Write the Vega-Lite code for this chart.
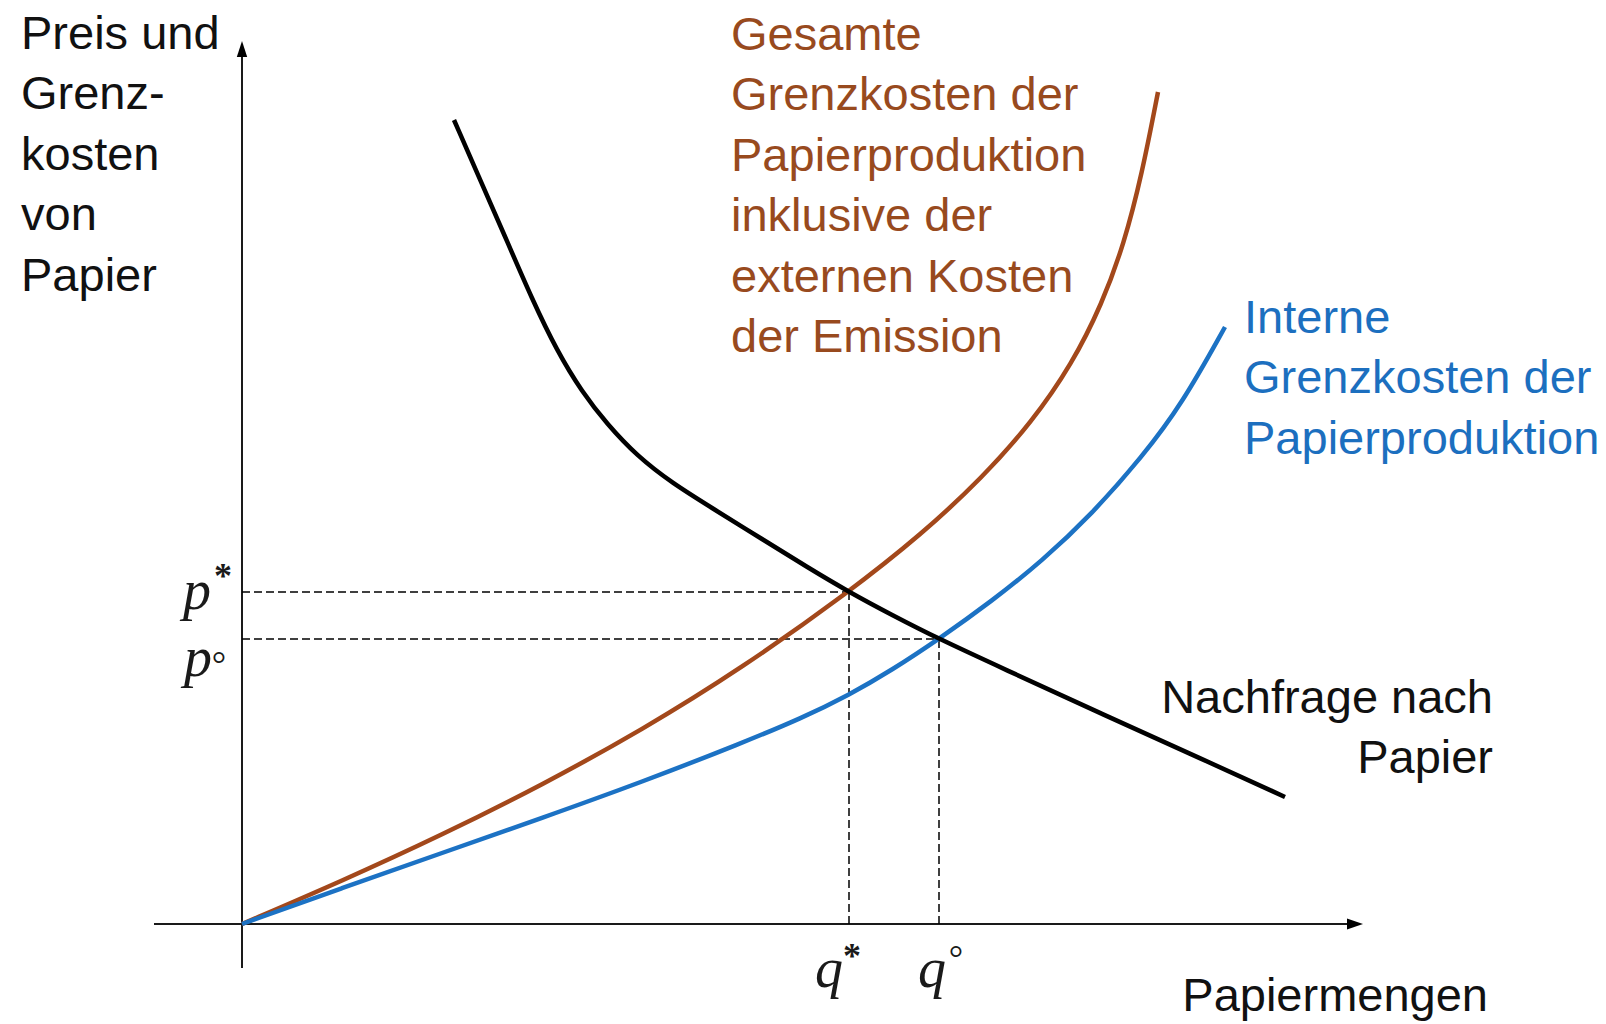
{
  "$schema": "https://vega.github.io/schema/vega-lite/v6.json",
  "width": 1606,
  "height": 1024,
  "padding": 0,
  "autosize": {"type": "none"},
  "background": "white",
  "config": {"view": {"stroke": null}},
  "datasets": {
    "curves": [
      {"curve": "Gesamt", "q": 0, "p": 0},
      {"curve": "Gesamt", "q": 100, "p": 43},
      {"curve": "Gesamt", "q": 200, "p": 89},
      {"curve": "Gesamt", "q": 300, "p": 139},
      {"curve": "Gesamt", "q": 400, "p": 194},
      {"curve": "Gesamt", "q": 500, "p": 256},
      {"curve": "Gesamt", "q": 607, "p": 332},
      {"curve": "Gesamt", "q": 680, "p": 390},
      {"curve": "Gesamt", "q": 740, "p": 446},
      {"curve": "Gesamt", "q": 790, "p": 502},
      {"curve": "Gesamt", "q": 830, "p": 560},
      {"curve": "Gesamt", "q": 860, "p": 620},
      {"curve": "Gesamt", "q": 882, "p": 680},
      {"curve": "Gesamt", "q": 900, "p": 750},
      {"curve": "Gesamt", "q": 916, "p": 832},
      {"curve": "Intern", "q": 0, "p": 0},
      {"curve": "Intern", "q": 100, "p": 36},
      {"curve": "Intern", "q": 200, "p": 71},
      {"curve": "Intern", "q": 300, "p": 106},
      {"curve": "Intern", "q": 400, "p": 142},
      {"curve": "Intern", "q": 500, "p": 181},
      {"curve": "Intern", "q": 560, "p": 206},
      {"curve": "Intern", "q": 607, "p": 229},
      {"curve": "Intern", "q": 650, "p": 254},
      {"curve": "Intern", "q": 697, "p": 285},
      {"curve": "Intern", "q": 750, "p": 323},
      {"curve": "Intern", "q": 800, "p": 363},
      {"curve": "Intern", "q": 850, "p": 410},
      {"curve": "Intern", "q": 900, "p": 467},
      {"curve": "Intern", "q": 940, "p": 520},
      {"curve": "Intern", "q": 983, "p": 597},
      {"curve": "Nachfrage", "q": 212, "p": 804},
      {"curve": "Nachfrage", "q": 240, "p": 740},
      {"curve": "Nachfrage", "q": 265, "p": 683},
      {"curve": "Nachfrage", "q": 290, "p": 625},
      {"curve": "Nachfrage", "q": 315, "p": 573},
      {"curve": "Nachfrage", "q": 340, "p": 532},
      {"curve": "Nachfrage", "q": 365, "p": 500},
      {"curve": "Nachfrage", "q": 395, "p": 468},
      {"curve": "Nachfrage", "q": 430, "p": 441},
      {"curve": "Nachfrage", "q": 470, "p": 416},
      {"curve": "Nachfrage", "q": 520, "p": 385},
      {"curve": "Nachfrage", "q": 565, "p": 357},
      {"curve": "Nachfrage", "q": 607, "p": 332},
      {"curve": "Nachfrage", "q": 650, "p": 309},
      {"curve": "Nachfrage", "q": 697, "p": 285},
      {"curve": "Nachfrage", "q": 760, "p": 256},
      {"curve": "Nachfrage", "q": 860, "p": 210},
      {"curve": "Nachfrage", "q": 960, "p": 165},
      {"curve": "Nachfrage", "q": 1043, "p": 127}
    ],
    "axes": [
      {"q1": -88, "p1": 0, "q2": 1110, "p2": 0},
      {"q1": 0, "p1": -44, "q2": 0, "p2": 878}
    ],
    "arrows": [
      {"dir": "right", "q": 1113, "p": 0},
      {"dir": "up", "q": 0, "p": 875}
    ],
    "guides": [
      {"q1": 0, "p1": 332, "q2": 607, "p2": 332},
      {"q1": 607, "p1": 0, "q2": 607, "p2": 332},
      {"q1": 0, "p1": 285, "q2": 697, "p2": 285},
      {"q1": 697, "p1": 0, "q2": 697, "p2": 285}
    ],
    "letters": [
      {"t": "p", "q": -45, "p": 315},
      {"t": "p", "q": -44, "p": 248},
      {"t": "q", "q": 587, "p": -63},
      {"t": "q", "q": 690, "p": -63}
    ],
    "stars": [
      {"t": "*", "q": -19, "p": 336},
      {"t": "*", "q": 610, "p": -44}
    ],
    "rings": [
      {"t": "°", "q": -23, "p": 248},
      {"t": "°", "q": 714, "p": -46}
    ],
    "one": [{}]
  },
  "layer": [
    {
      "data": {"name": "axes"},
      "mark": {"type": "rule", "color": "#1a1a1a", "strokeWidth": 2},
      "encoding": {
        "x": {"field": "q1", "type": "quantitative", "scale": {"domain": [-242, 1364], "nice": false, "zero": false}, "axis": null},
        "y": {"field": "p1", "type": "quantitative", "scale": {"domain": [-100, 924], "nice": false, "zero": false}, "axis": null},
        "x2": {"field": "q2"},
        "y2": {"field": "p2"}
      }
    },
    {
      "data": {"name": "arrows"},
      "mark": {"type": "point", "filled": true, "color": "#000000", "opacity": 1, "size": 256},
      "encoding": {
        "x": {"field": "q", "type": "quantitative", "scale": {"domain": [-242, 1364], "nice": false, "zero": false}, "axis": null},
        "y": {"field": "p", "type": "quantitative", "scale": {"domain": [-100, 924], "nice": false, "zero": false}, "axis": null},
        "shape": {"field": "dir", "type": "nominal", "scale": {"domain": ["right", "up"], "range": ["M1,0L-1,-0.7L-1,0.7Z", "M0,-1L0.65,1L-0.65,1Z"]}, "legend": null}
      }
    },
    {
      "data": {"name": "guides"},
      "mark": {"type": "rule", "color": "#000000", "strokeWidth": 1.5, "strokeDash": [8, 4]},
      "encoding": {
        "x": {"field": "q1", "type": "quantitative", "scale": {"domain": [-242, 1364], "nice": false, "zero": false}, "axis": null},
        "y": {"field": "p1", "type": "quantitative", "scale": {"domain": [-100, 924], "nice": false, "zero": false}, "axis": null},
        "x2": {"field": "q2"},
        "y2": {"field": "p2"}
      }
    },
    {
      "data": {"name": "curves"},
      "mark": {"type": "line", "strokeWidth": 4.5, "interpolate": "basis"},
      "encoding": {
        "x": {"field": "q", "type": "quantitative", "scale": {"domain": [-242, 1364], "nice": false, "zero": false}, "axis": null},
        "y": {"field": "p", "type": "quantitative", "scale": {"domain": [-100, 924], "nice": false, "zero": false}, "axis": null},
        "color": {"field": "curve", "type": "nominal", "scale": {"domain": ["Gesamt", "Intern", "Nachfrage"], "range": ["#A3481B", "#1C72C4", "#000000"]}, "legend": null}
      }
    },
    {
      "data": {"name": "letters"},
      "mark": {"type": "text", "font": "Liberation Serif", "fontStyle": "italic", "fontSize": 56, "align": "center", "baseline": "alphabetic", "color": "#1a1a1a"},
      "encoding": {
        "x": {"field": "q", "type": "quantitative", "scale": {"domain": [-242, 1364], "nice": false, "zero": false}, "axis": null},
        "y": {"field": "p", "type": "quantitative", "scale": {"domain": [-100, 924], "nice": false, "zero": false}, "axis": null},
        "text": {"field": "t"}
      }
    },
    {
      "data": {"name": "stars"},
      "mark": {"type": "text", "font": "Liberation Serif", "fontSize": 36, "fontWeight": "bold", "align": "center", "baseline": "alphabetic", "color": "#1a1a1a"},
      "encoding": {
        "x": {"field": "q", "type": "quantitative", "scale": {"domain": [-242, 1364], "nice": false, "zero": false}, "axis": null},
        "y": {"field": "p", "type": "quantitative", "scale": {"domain": [-100, 924], "nice": false, "zero": false}, "axis": null},
        "text": {"field": "t"}
      }
    },
    {
      "data": {"name": "rings"},
      "mark": {"type": "text", "font": "Liberation Serif", "fontSize": 36, "align": "center", "baseline": "alphabetic", "color": "#1a1a1a"},
      "encoding": {
        "x": {"field": "q", "type": "quantitative", "scale": {"domain": [-242, 1364], "nice": false, "zero": false}, "axis": null},
        "y": {"field": "p", "type": "quantitative", "scale": {"domain": [-100, 924], "nice": false, "zero": false}, "axis": null},
        "text": {"field": "t"}
      }
    },
    {
      "data": {"name": "one"},
      "mark": {"type": "text", "text": ["Preis und", "Grenz-", "kosten", "von", "Papier"], "font": "Liberation Sans", "fontSize": 47, "lineHeight": 60.4, "align": "left", "baseline": "alphabetic", "color": "#111111"},
      "encoding": {
        "x": {"datum": -221, "type": "quantitative", "scale": {"domain": [-242, 1364], "nice": false, "zero": false}, "axis": null},
        "y": {"datum": 875, "type": "quantitative", "scale": {"domain": [-100, 924], "nice": false, "zero": false}, "axis": null}
      }
    },
    {
      "data": {"name": "one"},
      "mark": {"type": "text", "text": ["Gesamte", "Grenzkosten der", "Papierproduktion", "inklusive der", "externen Kosten", "der Emission"], "font": "Liberation Sans", "fontSize": 47, "lineHeight": 60.4, "align": "left", "baseline": "alphabetic", "color": "#984A1E"},
      "encoding": {
        "x": {"datum": 489, "type": "quantitative", "scale": {"domain": [-242, 1364], "nice": false, "zero": false}, "axis": null},
        "y": {"datum": 874, "type": "quantitative", "scale": {"domain": [-100, 924], "nice": false, "zero": false}, "axis": null}
      }
    },
    {
      "data": {"name": "one"},
      "mark": {"type": "text", "text": ["Interne", "Grenzkosten der", "Papierproduktion"], "font": "Liberation Sans", "fontSize": 47, "lineHeight": 60.4, "align": "left", "baseline": "alphabetic", "color": "#1C6FBF"},
      "encoding": {
        "x": {"datum": 1002, "type": "quantitative", "scale": {"domain": [-242, 1364], "nice": false, "zero": false}, "axis": null},
        "y": {"datum": 591, "type": "quantitative", "scale": {"domain": [-100, 924], "nice": false, "zero": false}, "axis": null}
      }
    },
    {
      "data": {"name": "one"},
      "mark": {"type": "text", "text": ["Nachfrage nach", "Papier"], "font": "Liberation Sans", "fontSize": 47, "lineHeight": 60.4, "align": "right", "baseline": "alphabetic", "color": "#111111"},
      "encoding": {
        "x": {"datum": 1251, "type": "quantitative", "scale": {"domain": [-242, 1364], "nice": false, "zero": false}, "axis": null},
        "y": {"datum": 211, "type": "quantitative", "scale": {"domain": [-100, 924], "nice": false, "zero": false}, "axis": null}
      }
    },
    {
      "data": {"name": "one"},
      "mark": {"type": "text", "text": "Papiermengen", "font": "Liberation Sans", "fontSize": 47, "align": "right", "baseline": "alphabetic", "color": "#111111"},
      "encoding": {
        "x": {"datum": 1246, "type": "quantitative", "scale": {"domain": [-242, 1364], "nice": false, "zero": false}, "axis": null},
        "y": {"datum": -87, "type": "quantitative", "scale": {"domain": [-100, 924], "nice": false, "zero": false}, "axis": null}
      }
    }
  ]
}
